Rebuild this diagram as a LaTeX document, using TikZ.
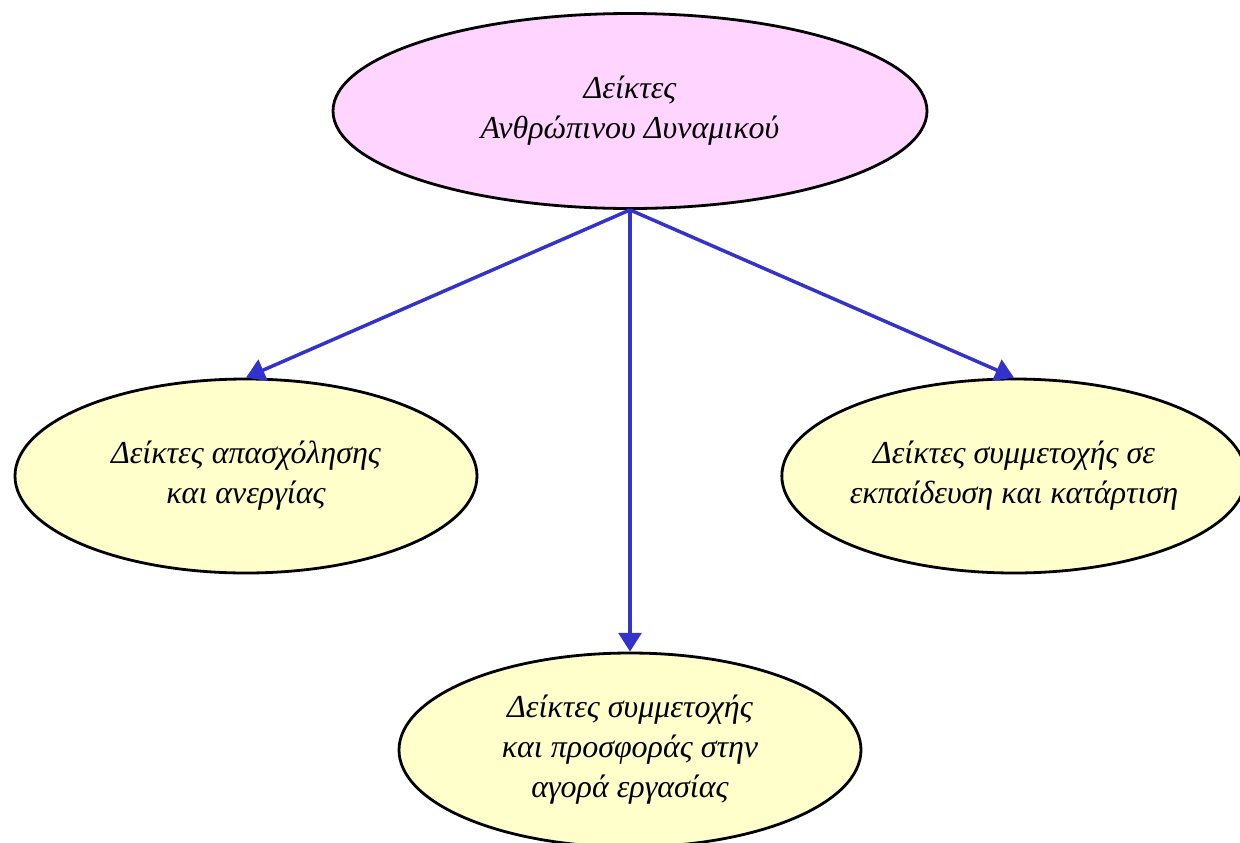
\documentclass[tikz,border=0pt]{standalone}
\usepackage{fontspec}
\setmainfont{Liberation Serif}
\usetikzlibrary{shapes.geometric,arrows.meta}
\definecolor{pinkfill}{HTML}{FFD5FF}
\definecolor{yelfill}{HTML}{FFFFCC}
\definecolor{arrowblue}{HTML}{3333CC}
\tikzset{
  bubble/.style={ellipse, draw=black, line width=2.1pt, align=center,
    inner sep=0pt, font=\itshape\fontsize{24}{30}\selectfont},
  topbubble/.style={bubble, fill=pinkfill, minimum width={594*0.75pt}, minimum height={195*0.75pt}},
  subbubble/.style={bubble, fill=yelfill, minimum width={462*0.75pt}, minimum height={194*0.75pt}},
  link/.style={draw=arrowblue, line width=2.6pt, -{Triangle[length=14pt,width=17pt]}}
}
\begin{document}
\begin{tikzpicture}[x=0.75pt,y=-0.75pt]
\useasboundingbox (0,0) rectangle (1240,843);
\node[topbubble] (top) at (630,111) {Δείκτες\\Ανθρώπινου Δυναμικού};
\node[subbubble] (left) at (246,476) {Δείκτες απασχόλησης\\και ανεργίας};
\node[subbubble] (right) at (1014,476) {Δείκτες συμμετοχής σε\\εκπαίδευση και κατάρτιση};
\node[subbubble] (bottom) at (630,750) {Δείκτες συμμετοχής\\και προσφοράς στην\\αγορά εργασίας};
\draw[link] (top.south) -- (left.north);
\draw[link] (top.south) -- (right.north);
\draw[link] (top.south) -- (bottom.north);
\end{tikzpicture}
\end{document}
